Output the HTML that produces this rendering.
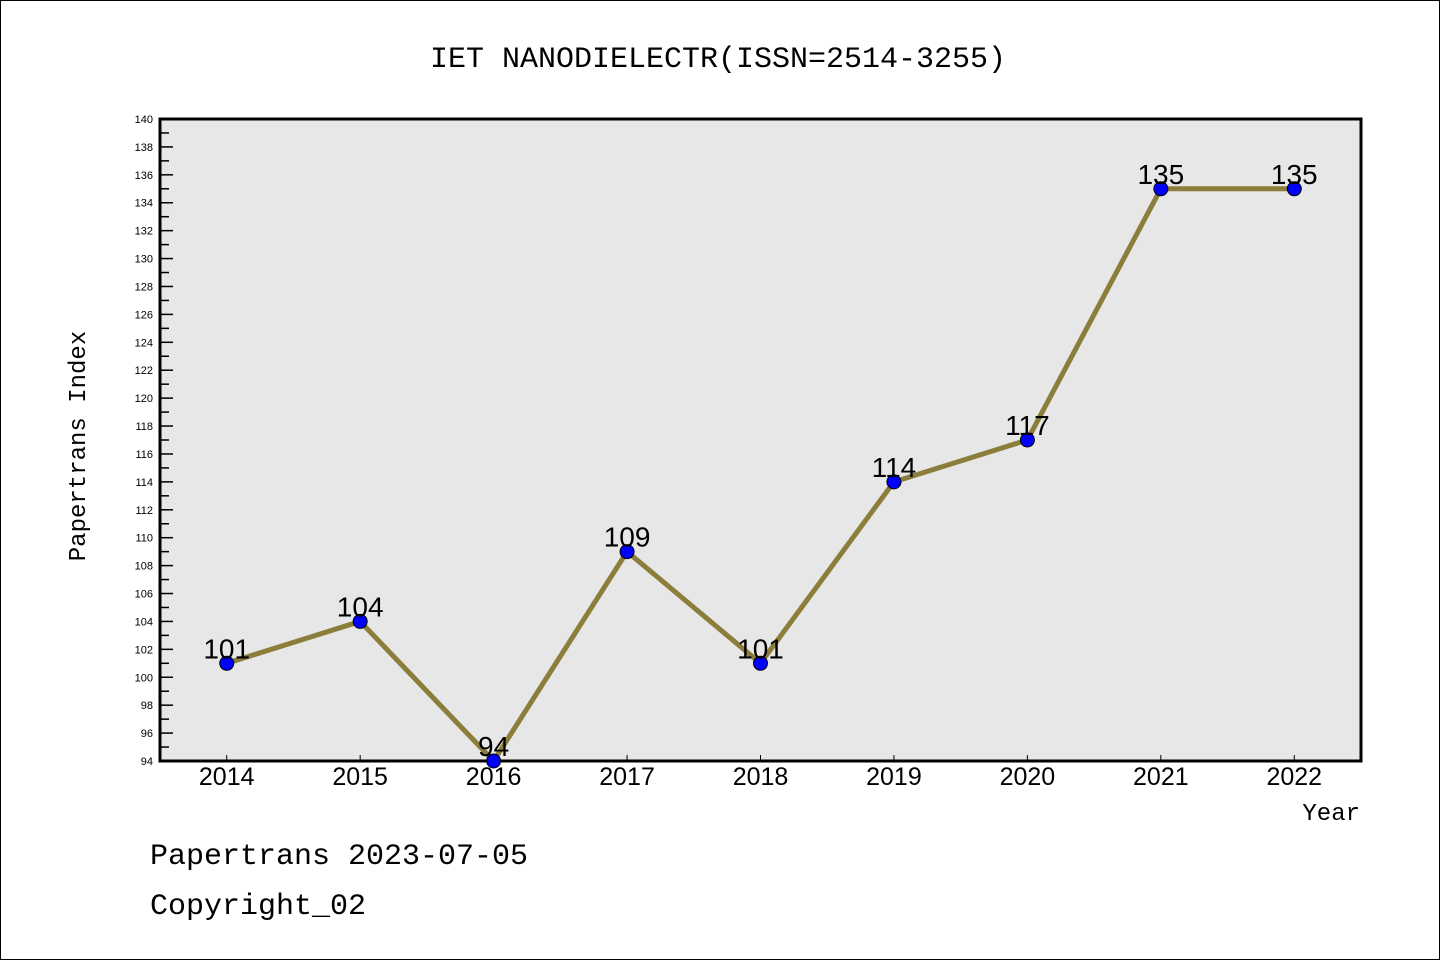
<!DOCTYPE html>
<html><head><meta charset="utf-8"><style>
html,body{margin:0;padding:0;background:#fff}
svg{display:block}
text{font-family:"Liberation Mono","DejaVu Sans Mono",monospace}
.sans{font-family:"Liberation Sans","DejaVu Sans",sans-serif}
</style></head><body>
<svg id="chart" width="1440" height="960" xmlns="http://www.w3.org/2000/svg">
<rect x="0.5" y="0.5" width="1439" height="959" fill="#fff" stroke="#000"/>
<text x="718" y="67" font-size="30" text-anchor="middle">IET NANODIELECTR(ISSN=2514-3255)</text>
<rect x="160" y="119" width="1201" height="642" fill="#e7e7e7"/>
<g id="yticks"></g><g id="xticks"></g>
<path d="M160,119 H1361 V761 H160 Z" fill="none" stroke="#000" stroke-width="3"/>
<g id="series"></g>
<text x="85" y="446" font-size="24" text-anchor="middle" transform="rotate(-90 85 446)">Papertrans Index</text>
<text x="1360" y="820" font-size="24" text-anchor="end">Year</text>
<text x="150" y="864" font-size="30">Papertrans 2023-07-05</text>
<text x="150" y="914" font-size="30">Copyright_02</text>
</svg>
<script>
const categories=["2014","2015","2016","2017","2018","2019","2020","2021","2022"];
const values=[101,104,94,109,101,114,117,135,135];
const yMin=94,yMax=140;
const NS="http://www.w3.org/2000/svg";
const L=160,R=1361,T=119,B=761;
const band=(R-L)/categories.length;
function xs(i){return L+band*(i+0.5);}
function ys(v){return B-(v-yMin)/(yMax-yMin)*(B-T);}
function mk(tag,attrs,parent){const e=document.createElementNS(NS,tag);for(const k in attrs)e.setAttribute(k,attrs[k]);parent.appendChild(e);return e;}
const yt=document.getElementById('yticks');
for(let v=yMin;v<=yMax;v++){
  const y=ys(v);
  const major=(v%2===0);
  const t=mk('line',{x1:L,x2:L+(major?13:9),y1:y,y2:y,stroke:'#000','stroke-width':1.5},yt);
  
  
  if(major){
    const tx=mk('text',{x:153,y:y+4,'font-size':11,'text-anchor':'end','class':'sans'},yt);
    tx.textContent=v;
    
    
  }
}
const xt=document.getElementById('xticks');
categories.forEach((c,i)=>{
  const x=xs(i);
  const t=mk('line',{x1:x,x2:x,y1:B,y2:B-6,stroke:'#000','stroke-width':1},xt);
  
  
  const tx=mk('text',{x:x,y:785,'font-size':25,'text-anchor':'middle','class':'sans'},xt);
  tx.textContent=c;
  
  
});
const s=document.getElementById('series');
const line=mk('polyline',{points:values.map((v,i)=>xs(i)+','+ys(v)).join(' '),fill:'none',stroke:'#8b7d3a','stroke-width':5,'stroke-linejoin':'round'},s);


values.forEach((v,i)=>{
  const c=mk('circle',{cx:xs(i),cy:ys(v),r:7,fill:'#0000ff',stroke:'#000','stroke-width':1},s);
  
  
  const tx=mk('text',{x:xs(i),y:ys(v)-5,'font-size':28,'text-anchor':'middle','class':'sans'},s);
  tx.textContent=v;
  
  
});
</script>
</body></html>
